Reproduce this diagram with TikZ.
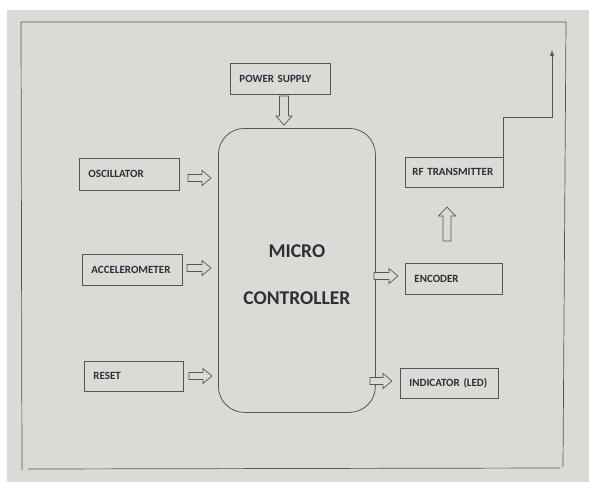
\documentclass[tikz,border=0pt]{standalone}
\usepackage{fontspec}
\usetikzlibrary{arrows.meta}
\setmainfont{Carlito}
\definecolor{paper}{HTML}{DCDAD5}
\definecolor{ink}{HTML}{555555}
\definecolor{txt}{HTML}{2E2E38}
\tikzset{
  blk/.style={draw=ink, line width=0.8pt, anchor=north west, inner xsep=9pt,
              inner ysep=0pt, align=left, text=txt,
              execute at begin node={\hyphenpenalty=10000 },
              font=\bfseries\fontsize{11}{12}\selectfont},
  mcu/.style={draw=ink, line width=0.8pt, rounded corners=26pt, anchor=north west},
  frame/.style={draw=ink, line width=0.7pt},
  pics/blockarrow/.style n args={3}{code={
    \draw[ink, line width=0.7pt, fill=paper]
      (0,-#2) -- (#1-9,-#2) -- (#1-9,-#3) -- (#1,0) -- (#1-9,#3) -- (#1-9,#2)
      -- (0,#2) -- cycle;}}
}
\begin{document}
\begin{tikzpicture}[x=1pt, y=-1pt]
  \useasboundingbox (0,0) rectangle (589,482);
  \fill[white] (0,0) rectangle (589,482);
  \fill[paper] (7,10) rectangle (589,482);
  % outer frame
  \draw[frame] (21,22) -- (566,22) -- (563,467);
  \draw[frame] (21,22) -- (22,470);
  \draw[frame] (28,469) -- (560,468);

  % blocks
  \node[blk, minimum height=31pt, text width=82pt] (ps)  at (230,63)  {POWER SUPPLY};
  \node[mcu, minimum width=157pt, minimum height=284pt] (mc) at (218,128) {};
  \node[text=txt, align=center, font=\bfseries\fontsize{19.5}{47}\selectfont]
    (mct) at ([yshift=-4pt]mc.center) {MICRO\\CONTROLLER};
  \node[blk, minimum height=32pt, text width=82pt] (osc) at (79,158)  {OSCILLATOR};
  \node[blk, minimum height=31pt, text width=82pt] (acc) at (82,254)  {ACCELEROMETER};
  \node[blk, minimum height=30pt, text width=81pt] (rst) at (84,361)  {RESET};
  \node[blk, minimum height=30pt, inner xsep=7pt, text width=84pt] (rf) at (405,157) {RF TRANSMITTER};
  \node[blk, minimum height=31pt, text width=79pt] (enc) at (405,263) {ENCODER};
  \node[blk, minimum height=30pt, text width=80pt] (ind) at (400,368) {INDICATOR (LED)};

  % hollow block arrows
  \pic at (188,178) {blockarrow={23}{3.5}{7.5}};
  \pic at (187,268) {blockarrow={24}{3.5}{7.5}};
  \pic at (189,376) {blockarrow={23}{3.5}{7.5}};
  \pic[rotate=-90] at (284,96) {blockarrow={29}{4.5}{8}};
  \pic[rotate=90] at (447,241) {blockarrow={34}{4}{8.5}};
  \pic at (374,276) {blockarrow={24}{3.5}{7.5}};
  \pic at (370,381) {blockarrow={22}{3.5}{7.5}};

  % antenna line
  \coordinate (ant) at (552,50);
  \draw[ink, line width=0.8pt, -{Latex[length=6pt,width=4.5pt]}]
    (rf.north east) -- ++(0,-40) -| (ant);
\end{tikzpicture}
\end{document}
